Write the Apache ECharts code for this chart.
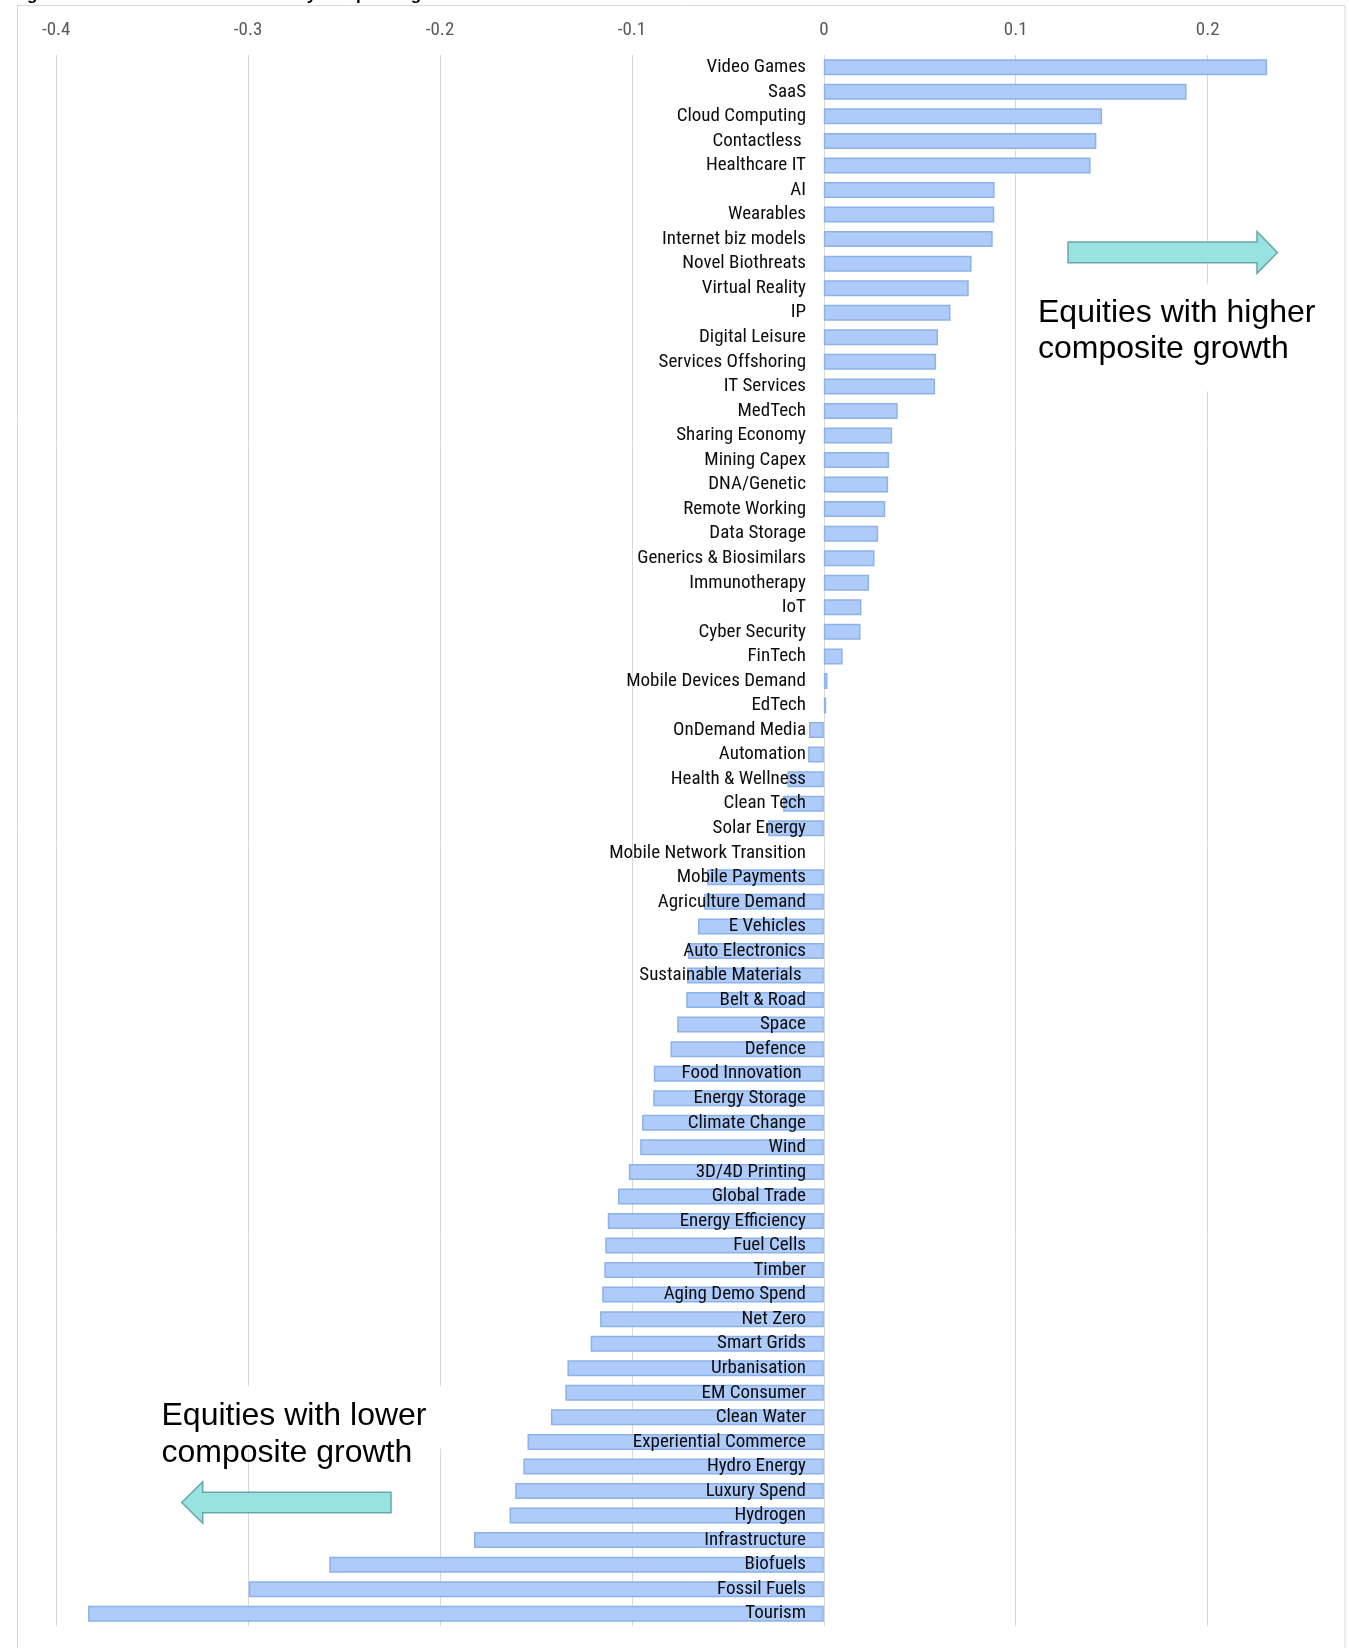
<!DOCTYPE html>
<html>
<head>
<meta charset="utf-8">
<title>Thematic baskets by composite growth</title>
<script src="https://cdn.jsdelivr.net/npm/echarts@6/dist/echarts.min.js"></script>
<style>
  html, body { margin: 0; padding: 0; background: #ffffff; }
  #chart { width: 1349px; height: 1648px; }
</style>
</head>
<body>
<div id="chart"></div>
<script>
// Theme names, top to bottom
const categories = [
  'Video Games', 'SaaS', 'Cloud Computing', 'Contactless ', 'Healthcare IT',
  'AI', 'Wearables', 'Internet biz models', 'Novel Biothreats', 'Virtual Reality',
  'IP', 'Digital Leisure', 'Services Offshoring', 'IT Services', 'MedTech',
  'Sharing Economy', 'Mining Capex', 'DNA/Genetic', 'Remote Working', 'Data Storage',
  'Generics & Biosimilars', 'Immunotherapy', 'IoT', 'Cyber Security', 'FinTech',
  'Mobile Devices Demand', 'EdTech', 'OnDemand Media', 'Automation', 'Health & Wellness',
  'Clean Tech', 'Solar Energy', 'Mobile Network Transition', 'Mobile Payments', 'Agriculture Demand',
  'E Vehicles', 'Auto Electronics', 'Sustainable Materials ', 'Belt & Road', 'Space',
  'Defence', 'Food Innovation ', 'Energy Storage', 'Climate Change', 'Wind',
  '3D/4D Printing', 'Global Trade', 'Energy Efficiency', 'Fuel Cells', 'Timber',
  'Aging Demo Spend', 'Net Zero', 'Smart Grids', 'Urbanisation', 'EM Consumer',
  'Clean Water', 'Experiential Commerce', 'Hydro Energy', 'Luxury Spend', 'Hydrogen',
  'Infrastructure', 'Biofuels', 'Fossil Fuels', 'Tourism'
];

// Composite growth score per theme (same order as categories)
const compositeGrowth = [
  0.231, 0.189, 0.145, 0.142, 0.139,
  0.089, 0.0888, 0.088, 0.077, 0.0755,
  0.066, 0.0595, 0.0585, 0.058, 0.0385,
  0.0356, 0.034, 0.0335, 0.032, 0.0283,
  0.0264, 0.0236, 0.0196, 0.0191, 0.0098,
  0.0019, 0.0012, -0.0077, -0.0082, -0.019,
  -0.0212, -0.029, null, -0.0608, -0.0624,
  -0.0656, -0.0708, -0.0713, -0.0717, -0.0764,
  -0.0799, -0.0886, -0.0889, -0.0947, -0.0957,
  -0.1016, -0.1073, -0.1126, -0.1139, -0.1144,
  -0.1155, -0.1166, -0.1215, -0.1336, -0.1347,
  -0.1422, -0.1544, -0.1566, -0.1608, -0.1638,
  -0.1823, -0.2577, -0.2997, -0.3834
];

// Value axis range
const axisMin = -0.4;
const axisMax = 0.25;
const axisStep = 0.1;

// Annotation texts
const higherNote = ['Equities with higher', 'composite growth'];
const lowerNote = ['Equities with lower', 'composite growth'];
const titleText = 'Figure 7: Thematic baskets ranked by composite growth';

const NARROW = '"Roboto Condensed", "Liberation Sans Narrow", "DejaVu Sans Condensed", sans-serif';
const SANS = '"Liberation Sans", Arial, sans-serif';

// plot area geometry
const GRID_LEFT = 56.2;
const GRID_RIGHT = 45.4;
const LABEL_RIGHT_X = 806; // right edge of the theme names

const chart = echarts.init(document.getElementById('chart'), null, { renderer: 'canvas' });

const arrowStyle = { fill: '#98e2e2', stroke: '#68a9a7', lineWidth: 1.5 };

function noteLines(lines, x, y0, gap) {
  return lines.map((t, i) => ({
    type: 'text', z: 102, silent: true,
    style: {
      text: t, x: x, y: y0 + i * gap,
      font: '32px ' + SANS, fill: '#000000',
      align: 'left', verticalAlign: 'middle'
    }
  }));
}

const option = {
  backgroundColor: '#ffffff',
  animation: false,
  grid: {
    left: GRID_LEFT, right: GRID_RIGHT, top: 55, bottom: 22,
    containLabel: false, outerBoundsMode: 'none'
  },
  xAxis: {
    type: 'value',
    position: 'top',
    min: axisMin,
    max: axisMax,
    interval: axisStep,
    axisLine: { show: false },
    axisTick: { show: false },
    axisLabel: {
      showMaxLabel: false,
      margin: 15,
      color: '#595959',
      fontFamily: NARROW,
      fontSize: 19
    },
    splitLine: { show: true, showMaxLine: false, lineStyle: { color: '#d9d9d9', width: 1 } }
  },
  yAxis: {
    type: 'category',
    position: 'left',
    data: categories,
    inverse: true,
    z: 10,
    axisLine: { show: false, onZero: false },
    axisTick: { show: false },
    axisLabel: {
      // names sit just left of the zero line, over the bars
      margin: -(LABEL_RIGHT_X - GRID_LEFT),
      color: '#0d0d0d',
      fontFamily: NARROW,
      fontSize: 19,
      interval: 0
    },
    splitLine: { show: false }
  },
  series: [{
    type: 'bar',
    data: compositeGrowth,
    barWidth: 16,
    itemStyle: { color: '#aecbfa', borderColor: '#8db2e8', borderWidth: 1.5 },
    emphasis: { disabled: true }
  }],
  graphic: [
    // chart frame
    { type: 'rect', z: 100, silent: true,
      shape: { x: 17.5, y: 5.5, width: 1327.5, height: 1700 },
      style: { fill: 'none', stroke: '#d9d9d9', lineWidth: 1 } },
    // title, mostly above the visible area
    { type: 'text', z: 100, silent: true,
      style: { text: titleText, x: 12, y: 3.5, font: 'bold 17px ' + SANS, fill: '#000', align: 'left', verticalAlign: 'bottom' } },
    // white text boxes behind the notes
    { type: 'rect', z: 101, silent: true,
      shape: { x: 1030, y: 283.5, width: 300, height: 108 },
      style: { fill: '#ffffff' } },
    { type: 'rect', z: 101, silent: true,
      shape: { x: 150, y: 1386, width: 310, height: 62.5 },
      style: { fill: '#ffffff' } },
    // arrows
    { type: 'polygon', z: 101, silent: true,
      shape: { points: [[1068, 242], [1257, 242], [1257, 231.6], [1277.4, 252.4], [1257, 273.3], [1257, 262.7], [1068, 262.7]] },
      style: arrowStyle },
    { type: 'polygon', z: 101, silent: true,
      shape: { points: [[181.7, 1502.5], [202.7, 1481.7], [202.7, 1492.3], [391, 1492.3], [391, 1512.7], [202.7, 1512.7], [202.7, 1523.3]] },
      style: arrowStyle }
  ].concat(noteLines(higherNote, 1038, 313, 36.6), noteLines(lowerNote, 161.5, 1416.5, 37))
};

chart.setOption(option);
</script>
</body>
</html>
